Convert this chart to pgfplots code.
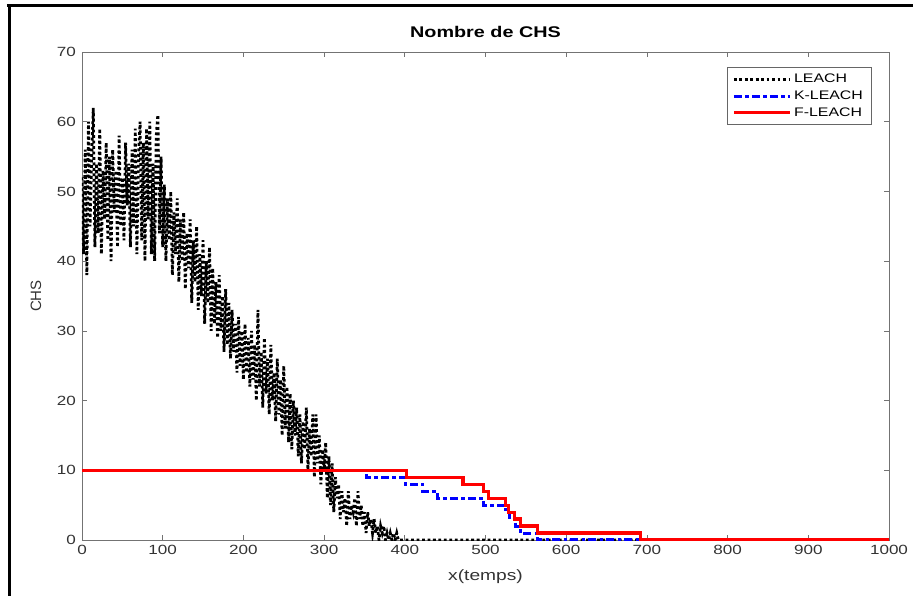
\documentclass[border=0pt]{standalone}
\usepackage{pgfplots}
\pgfplotsset{compat=1.18}
\usepackage{fontspec}
\setmainfont[FakeStretch=1.28]{Liberation Sans}
\newfontfamily\plainsans{Liberation Sans}

\begin{document}
\begin{tikzpicture}
% page frame: 913 x 596 px figure, 1 px = 0.75pt
\path[use as bounding box] (0pt,0pt) rectangle (684.75pt,-447pt);
\draw[line width=2.4pt,black] (5.2pt,-4.1pt) -- (684.75pt,-4.1pt);
\draw[line width=2.4pt,black] (7.1pt,-3pt) -- (7.1pt,-447pt);

\begin{axis}[
  at={(61.5pt,-405pt)}, anchor=south west,
  scale only axis, width=605.25pt, height=366pt,
  xmin=0, xmax=1000, ymin=0, ymax=70,
  xtick={0,100,...,1000}, ytick={0,10,...,70},
  tick align=inside, major tick length=4pt,
  axis line style={black!55, line width=0.5pt},
  every tick/.style={black!55, line width=0.5pt},
  tick label style={font=\fontsize{10}{12}\selectfont, text=black!80},
  /pgf/number format/assume math mode=true,
  /pgf/number format/1000 sep={},
  xticklabel style={yshift=0pt},
  yticklabel style={xshift=-1pt},
  title={\bfseries Nombre de CHS},
  title style={font=\fontsize{11.6}{13}\selectfont,
    at={(axis description cs:0.5,1)}, anchor=center, yshift=9pt},
  xlabel={x(temps)}, ylabel={CHS},
  label style={font=\fontsize{11.25}{13}\selectfont, text=black!80},
  xlabel style={at={(axis description cs:0.5,0)}, anchor=center, yshift=-27.5pt},
  ylabel style={font=\plainsans\fontsize{11.25}{13}\selectfont,
    at={(axis description cs:0,0.5)}, anchor=center, yshift=34.5pt},
  legend style={at={(0.978,0.969)}, anchor=north east,
    draw=black!60, line width=0.5pt, fill=white,
    font=\fontsize{9.3}{11}\selectfont, inner xsep=4pt, inner ysep=3pt,
    row sep=0.5pt},
  legend cell align=left,
  legend image code/.code={\draw[#1] (0pt,0pt) -- (42pt,0pt);},
]

% LEACH: number of cluster heads per round
\addplot[black, line width=2.1pt, dash pattern=on 2.1pt off 2pt] coordinates {
(0,52) (2,41) (4,56) (6,38) (8,60) (10,45) (12,55) (14,62) (16,42) (18,54)
(20,44) (22,59) (24,41) (26,53) (28,46) (30,57) (32,43) (34,55) (36,40) (38,56)
(40,47) (42,53) (44,42) (46,58) (48,45) (50,52) (52,43) (54,57) (56,48) (58,54)
(60,42) (62,56) (64,45) (66,59) (68,41) (70,55) (72,60) (74,43) (76,57) (78,40)
(80,59) (82,46) (84,60) (86,41) (88,54) (90,40) (92,58) (94,61) (96,44) (98,55)
(100,42) (102,51) (104,40) (106,49) (108,43) (110,50) (112,38) (114,47) (116,41) (118,49)
(120,37) (122,46) (124,40) (126,47) (128,36) (130,44) (132,39) (134,46) (136,34) (138,43)
(140,37) (142,45) (144,33) (146,41) (148,35) (150,43) (152,31) (154,40) (156,34) (158,42)
(160,30) (162,39) (164,31) (166,37) (168,29) (170,38) (172,30) (174,35) (176,27) (178,36)
(180,28) (182,34) (184,26) (186,33) (188,27) (190,31) (192,24) (194,32) (196,25) (198,30)
(200,23) (202,31) (204,24) (206,29) (208,22) (210,30) (212,23) (214,28) (216,20) (218,33)
(220,22) (222,27) (224,19) (226,29) (228,21) (230,26) (232,18) (234,28) (236,20) (238,24)
(240,17) (242,26) (244,18) (246,23) (248,15) (250,25) (252,16) (254,22) (256,14) (258,21)
(260,13) (262,20) (264,15) (266,19) (268,12) (270,18) (272,11) (274,17) (276,13) (278,19)
(280,10) (282,16) (284,12) (286,18) (288,9) (290,18) (292,11) (294,15) (296,8) (298,13)
(300,10) (302,14) (304,6) (306,12) (308,5) (310,11) (312,4) (314,9) (316,6) (318,8)
(320,3) (322,7) (324,4) (326,6) (328,2) (330,7) (332,3) (334,5) (336,4) (338,6)
(340,2) (342,7) (344,3) (346,5) (348,2) (350,4) (352,1) (354,4) (356,2) (358,3)
(360,1) (362,3) (364,1) (366,2) (368,0) (370,2) (372,1) (374,2) (376,0) (378,1)
(380,0) (382,1) (384,0) (386,1) (388,0) (390,1) (392,0) (394,0) (1000,0)
};
\addlegendentry{LEACH}

% K-LEACH: stepwise decrease
\addplot[blue, line width=2.3pt, const plot,
  dash pattern=on 6pt off 2.5pt on 2.5pt off 2.5pt] coordinates {
(0,10) (352,9) (401,8) (422,7) (440,6) (497,5) (525,4) (530,3) (537,2) (543,1) (564,0) (1000,0)
};
\addlegendentry{K-LEACH}

% F-LEACH: stepwise decrease
\addplot[red, line width=2.4pt, const plot] coordinates {
(0,10) (402,9) (472,8) (498,7) (504,6) (525,5) (528,4) (536,3) (543,2) (564,1) (692,0) (1000,0)
};
\addlegendentry{F-LEACH}

\end{axis}
\end{tikzpicture}
\end{document}
